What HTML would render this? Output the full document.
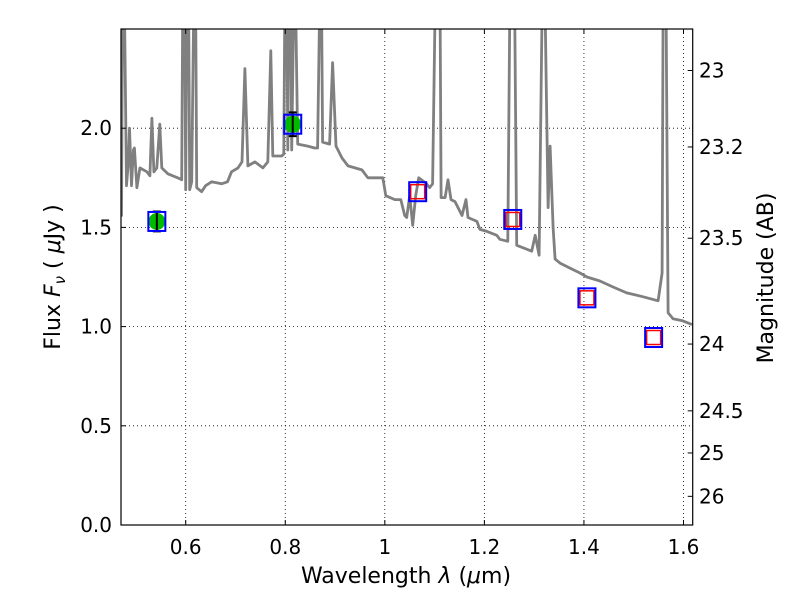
<!DOCTYPE html>
<html><head><meta charset="utf-8"><style>
body{margin:0;background:#fff;}
svg{display:block;font-family:"DejaVu Sans","Liberation Sans",sans-serif;}
</style></head><body>
<svg id="chart" width="800" height="600" viewBox="0 0 800 600" xmlns="http://www.w3.org/2000/svg">
<defs><clipPath id="clip"><rect x="121" y="29" width="571.7" height="496"/></clipPath></defs>
<rect x="0" y="0" width="800" height="600" fill="#fff"/>
<g id="grid"></g>
<g id="spec" clip-path="url(#clip)"></g>
<g id="pts"></g>
<rect x="121" y="29" width="571.7" height="496" fill="none" stroke="#000" stroke-width="1.2"/>
<g id="axes"></g>
<text x="406" y="583" font-size="22" text-anchor="middle">Wavelength  <tspan font-style="italic">λ</tspan> (<tspan font-style="italic">μ</tspan>m)</text>
<text transform="translate(60,277) rotate(-90)" font-size="22" text-anchor="middle">Flux  <tspan font-style="italic">F</tspan><tspan font-style="italic" font-size="15" dy="5">ν</tspan><tspan dy="-5">  ( </tspan><tspan font-style="italic">μ</tspan>Jy )</text>
<text transform="translate(773,278) rotate(-90)" font-size="22" text-anchor="middle">Magnitude (AB)</text>
</svg>
<script>
const specLam=[0.467,0.471,0.473,0.477,0.481,0.485,0.487,0.491,0.495,0.497,0.502,0.508,0.522,0.528,0.532,0.536,0.542,0.548,0.552,0.564,0.584,0.592,0.594,0.598,0.600,0.602,0.606,0.608,0.612,0.616,0.620,0.622,0.632,0.640,0.652,0.672,0.684,0.692,0.705,0.713,0.719,0.725,0.739,0.755,0.765,0.771,0.775,0.793,0.797,0.799,0.803,0.805,0.807,0.811,0.813,0.817,0.821,0.825,0.845,0.859,0.865,0.869,0.873,0.875,0.889,0.895,0.902,0.914,0.926,0.954,0.966,0.986,0.996,1.002,1.020,1.032,1.040,1.044,1.050,1.056,1.062,1.068,1.084,1.090,1.096,1.101,1.111,1.113,1.121,1.127,1.133,1.141,1.155,1.163,1.167,1.185,1.191,1.205,1.225,1.231,1.247,1.251,1.261,1.265,1.285,1.295,1.302,1.310,1.316,1.322,1.328,1.332,1.338,1.342,1.352,1.376,1.392,1.406,1.432,1.458,1.486,1.519,1.549,1.557,1.559,1.565,1.569,1.579,1.597,1.617];
const specFlux=[1.56,1.56,2.6,2.6,1.71,1.84,2.00,1.71,1.89,1.90,1.70,1.80,1.78,1.76,2.05,1.78,1.80,2.02,1.80,1.77,1.75,1.74,2.6,2.6,1.69,2.6,2.6,1.69,1.73,2.6,2.6,1.70,1.68,1.71,1.73,1.72,1.73,1.78,1.80,1.83,2.30,1.81,1.83,1.80,1.83,2.39,1.86,1.86,1.87,2.6,2.6,1.89,2.6,2.6,1.89,2.6,2.6,1.92,1.91,1.90,1.90,2.6,2.6,1.93,1.92,2.33,1.91,1.85,1.81,1.79,1.75,1.75,1.75,1.66,1.64,1.64,1.56,1.55,1.66,1.51,1.66,1.75,1.72,1.70,1.72,2.6,2.6,1.65,1.65,1.74,1.64,1.63,1.56,1.64,1.55,1.53,1.49,1.48,1.46,1.44,1.43,2.6,2.6,1.41,1.39,1.38,1.46,1.36,2.6,2.6,1.60,1.91,1.50,1.34,1.32,1.29,1.27,1.25,1.23,1.20,1.17,1.15,1.13,1.27,2.6,2.6,1.07,1.04,1.03,1.01];
const bandLam=[0.542,0.815,1.066,1.257,1.406,1.540];
const bandFlux=[1.53,2.02,1.68,1.54,1.145,0.945];
const obsLam=[0.542,0.815];
const obsFlux=[1.53,2.02];
const obsErr=[0.05,0.06];
const modelLam=[1.066,1.257,1.406,1.540];
const modelFlux=[1.68,1.54,1.145,0.945];
const xTicks=[0.6,0.8,1.0,1.2,1.4,1.6];
const xTickLabels=["0.6","0.8","1","1.2","1.4","1.6"];
const yTicks=[0,0.5,1,1.5,2];
const yTickLabels=["0.0","0.5","1.0","1.5","2.0"];
const magTicks=[23,23.2,23.5,24,24.5,25,26];
const magTickLabels=["23","23.2","23.5","24","24.5","25","26"];

const L=121,R=692.7,T=29,B=525,xmin=0.47,xmax=1.6185,ymin=0,ymax=2.5;
const X=v=>L+(v-xmin)/(xmax-xmin)*(R-L);
const Y=v=>B-(v-ymin)/(ymax-ymin)*(B-T);
const NS="http://www.w3.org/2000/svg";
function mk(tag,attrs,parent){const e=document.createElementNS(NS,tag);for(const k in attrs)e.setAttribute(k,attrs[k]);parent.appendChild(e);return e;}
const grid=document.getElementById('grid'),axes=document.getElementById('axes'),spec=document.getElementById('spec'),pts=document.getElementById('pts');

xTicks.forEach((v,i)=>{
  const x=X(v);
  const g=mk('line',{x1:x,x2:x,y1:T,y2:B,stroke:'#000','stroke-width':0.8,'stroke-dasharray':'1,3'},grid);
  
  
  const t1=mk('line',{x1:x,x2:x,y1:B,y2:B-5,stroke:'#000'},axes);
  
  
  mk('line',{x1:x,x2:x,y1:T,y2:T+5,stroke:'#000'},axes);
  const t=mk('text',{x:x,y:554,'font-size':20,'text-anchor':'middle'},axes);
  t.textContent=xTickLabels[i];
  
  
});
yTicks.forEach((v,i)=>{
  const y=Y(v);
  const g=mk('line',{x1:L,x2:R,y1:y,y2:y,stroke:'#000','stroke-width':0.8,'stroke-dasharray':'1,3'},grid);
  
  
  const tk=mk('line',{x1:L,x2:L+5,y1:y,y2:y,stroke:'#000'},axes);
  
  
  const t=mk('text',{x:112,y:y+7,'font-size':20,'text-anchor':'end'},axes);
  t.textContent=yTickLabels[i];
  
  
});
magTicks.forEach((m,i)=>{
  const y=Y(Math.pow(10,(23.9-m)/2.5));
  const tk=mk('line',{x1:R,x2:R-5,y1:y,y2:y,stroke:'#000'},axes);
  
  
  const t=mk('text',{x:699,y:y+7,'font-size':20,'text-anchor':'start'},axes);
  t.textContent=magTickLabels[i];
  
  
});

const d=specLam.map((l,i)=>(i?'L':'M')+X(l).toFixed(1)+','+Y(specFlux[i]).toFixed(1)).join(' ');
const sp=mk('path',{d:d,fill:'none',stroke:'#808080','stroke-width':2.8,'stroke-linejoin':'round'},spec);



obsLam.forEach((l,i)=>{
  const x=X(l),y=Y(obsFlux[i]);
  const c=mk('circle',{cx:x,cy:y,r:8.5,fill:'#00bb00'},pts);
  
  
  const y1=Y(obsFlux[i]+obsErr[i]),y2=Y(obsFlux[i]-obsErr[i]);
  const e=mk('path',{d:`M${x},${y1}L${x},${y2}M${x-4},${y1}L${x+4},${y1}M${x-4},${y2}L${x+4},${y2}`,stroke:'#000','stroke-width':2,fill:'none'},pts);
  
  
});
modelLam.forEach((l,i)=>{
  const x=X(l),y=Y(modelFlux[i]);
  const r=mk('rect',{x:x-7,y:y-7,width:14,height:14,fill:'none',stroke:'#ff0000','stroke-width':1.5},pts);
  
  
});
bandLam.forEach((l,i)=>{
  const x=X(l),y=Y(bandFlux[i]);
  const r=mk('rect',{x:x-8.5,y:y-9.5,width:17,height:19,fill:'none',stroke:'#0000ff','stroke-width':2},pts);
  
  
});
</script>
</body></html>
